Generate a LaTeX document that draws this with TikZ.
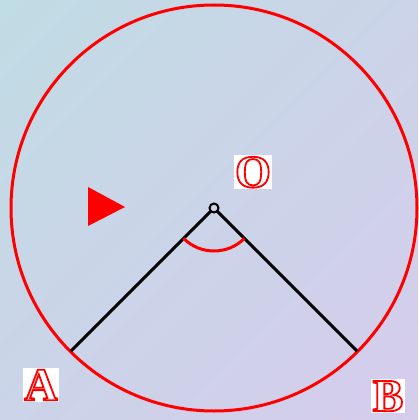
\documentclass[tikz,border=0pt]{standalone}
\usepackage{fontspec}
\setmainfont{Liberation Serif}
\usetikzlibrary{shadings}
\newcommand{\outlined}[1]{\special{pdf:literal direct 1 Tr 1.8 w}#1\special{pdf:literal direct 0 Tr}}
\definecolor{bgtl}{RGB}{192,220,228}
\definecolor{bgbr}{RGB}{214,204,236}
\definecolor{bgmid}{RGB}{203,212,232}
\tikzset{
  lbl/.style={fill=white,inner sep=1.5pt,text depth=0pt,text=red,font=\fontsize{46}{46}\selectfont\bfseries},
  seg/.style={line width=3pt,black},
}
\begin{document}
\begin{tikzpicture}[x=1pt,y=-1pt]
\shade[upper left=bgtl,lower right=bgbr,upper right=bgmid,lower left=bgmid] (0,0) rectangle (418,420);
\useasboundingbox (0,0) rectangle (418,420);
\coordinate (O) at (214,208);
\coordinate (PA) at (71,351);
\coordinate (PB) at (357,351);
\draw[red,line width=3pt] (O) circle[radius=203];
\draw[seg] (O) -- (PA);
\draw[seg] (O) -- (PB);
\draw[red,line width=3pt] ([shift={(135:43)}]O) arc[start angle=135,end angle=45,radius=43];
\node[draw=black,fill=bgmid,circle,line width=2pt,minimum size=9pt,inner sep=0pt] (c) at (O) {};
\fill[red] (88,187) -- (125,207) -- (88,226) -- cycle;
\node[lbl] (lo) at (253,172) {\outlined{O}};
\node[lbl] (la) at (41,385) {\outlined{A}};
\node[lbl] (lb) at (388,396) {\outlined{B}};
\end{tikzpicture}
\end{document}
